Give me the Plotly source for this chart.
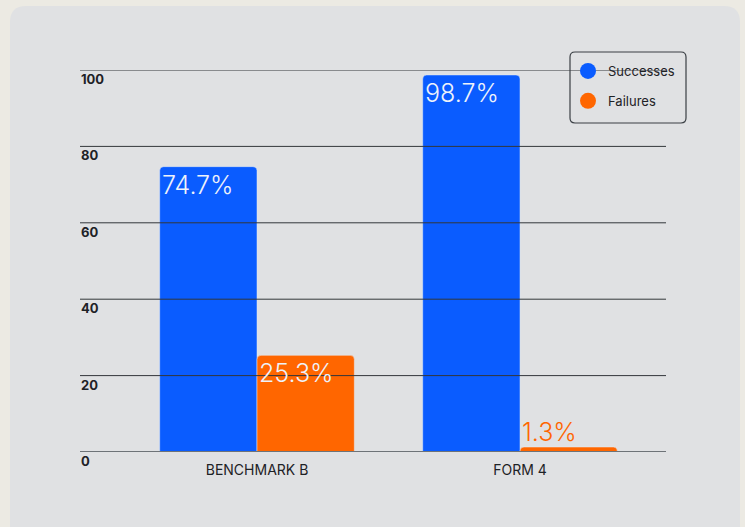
import plotly.graph_objects as go

categories = ["BENCHMARK B", "FORM 4"]
successes = [74.7, 98.7]
failures = [25.3, 1.3]
y_ticks = [0, 20, 40, 60, 80, 100]

BLUE = "#0A5CFF"
ORANGE = "#FF6600"
BG = "#E0E1E3"
OUTER = "#ECEAE3"
FONT = "Inter, Roboto, sans-serif"
TEXT = "#1E2226"

W, H = 745, 527
ML, MR, MT, MB = 80, 79, 70, 75
pw, ph = W - ML - MR, H - MT - MB
def px(x): return (x - ML) / pw
def py(y): return (H - MB - y) / ph

fig = go.Figure()
x_idx = list(range(len(categories)))

fig.add_trace(go.Bar(x=x_idx, y=successes, name="Successes", marker=dict(color=BLUE, cornerradius=4),
                     showlegend=False, hoverinfo="skip"))
fig.add_trace(go.Bar(x=x_idx, y=failures, name="Failures", marker=dict(color=ORANGE, cornerradius=4),
                     showlegend=False, hoverinfo="skip"))
# legend proxies (circle markers)
fig.add_trace(go.Scatter(x=[None], y=[None], mode="markers", name="Successes", legendgroup="s",
                         marker=dict(color=BLUE, size=20, symbol="circle")))
fig.add_trace(go.Scatter(x=[None], y=[None], mode="markers", name="Failures", legendgroup="f",
                         marker=dict(color=ORANGE, size=20, symbol="circle")))

bar_w = 0.37
for i, v in enumerate(successes):
    fig.add_annotation(x=i - bar_w, y=v, xref="x", yref="y", text=f"{v}%", showarrow=False,
                       xanchor="left", yanchor="top", yshift=-1,
                       font=dict(size=25, color="#EEF2FA", family=FONT, weight=300))
for i, v in enumerate(failures):
    inside = v > 10
    fig.add_annotation(x=i, y=v, xref="x", yref="y", text=f"{v}%", showarrow=False,
                       xanchor="left", yanchor="top" if inside else "bottom",
                       yshift=-1 if inside else -2,
                       font=dict(size=25, color="#EEF2FA" if inside else ORANGE, family=FONT, weight=300))

# gridlines (drawn above bars) and y tick labels below each line
for t in y_ticks:
    fig.add_shape(type="line", xref="paper", yref="y", x0=0, x1=1, y0=t, y1=t, layer="above",
                  line=dict(color="#6E7378" if t == 0 else "#33373B", width=2 if t == 0 else 1))
    fig.add_annotation(x=0, y=t, xref="paper", yref="y", text=str(t), showarrow=False,
                       xanchor="left", yanchor="middle", yshift=-9, xshift=-1,
                       font=dict(size=13, color=TEXT, family=FONT, weight="bold"))

# rounded card background
r = 16
x0, x1, y0, y1 = 10, 740, 6, 545
path = (f"M {px(x0+r)},{py(y0)} L {px(x1-r)},{py(y0)} Q {px(x1)},{py(y0)} {px(x1)},{py(y0+r)} "
        f"L {px(x1)},{py(y1)} L {px(x0)},{py(y1)} L {px(x0)},{py(y0+r)} Q {px(x0)},{py(y0)} {px(x0+r)},{py(y0)} Z")
fig.add_shape(type="path", xref="paper", yref="paper", layer="below", path=path,
              fillcolor=BG, line=dict(width=0))

# rounded legend frame
r = 5
x0, x1, y0, y1 = 570, 686, 52, 123
path = (f"M {px(x0+r)},{py(y0)} L {px(x1-r)},{py(y0)} Q {px(x1)},{py(y0)} {px(x1)},{py(y0+r)} "
        f"L {px(x1)},{py(y1-r)} Q {px(x1)},{py(y1)} {px(x1-r)},{py(y1)} "
        f"L {px(x0+r)},{py(y1)} Q {px(x0)},{py(y1)} {px(x0)},{py(y1-r)} "
        f"L {px(x0)},{py(y0+r)} Q {px(x0)},{py(y0)} {px(x0+r)},{py(y0)} Z")
fig.add_shape(type="path", xref="paper", yref="paper", layer="above", path=path,
              fillcolor="rgba(0,0,0,0)", line=dict(width=1.2, color="#3A3F44"))

fig.update_layout(
    width=W, height=H,
    paper_bgcolor=OUTER, plot_bgcolor="rgba(0,0,0,0)",
    margin=dict(l=ML, r=MR, t=MT, b=MB),
    barmode="group", bargap=0.26, bargroupgap=0.0,
    font=dict(family=FONT, color=TEXT),
    xaxis=dict(tickmode="array", tickvals=x_idx, ticktext=categories, range=[-0.673, 1.555],
               showgrid=False, zeroline=False, showline=False, ticks="",
               tickfont=dict(size=14, color=TEXT, family=FONT), ticklabelstandoff=8),
    yaxis=dict(range=[0, 100], tickvals=y_ticks, showgrid=False, zeroline=False, showline=False,
               ticks="", showticklabels=False),
    legend=dict(x=px(568), y=py(56), xanchor="left", yanchor="top", bgcolor="rgba(0,0,0,0)",
                borderwidth=0, font=dict(size=13, color=TEXT, family=FONT),
                itemsizing="trace", tracegroupgap=10),
)

fig.write_html("out.html", config={"displayModeBar": False},
               post_script="document.body.style.margin='0';")
